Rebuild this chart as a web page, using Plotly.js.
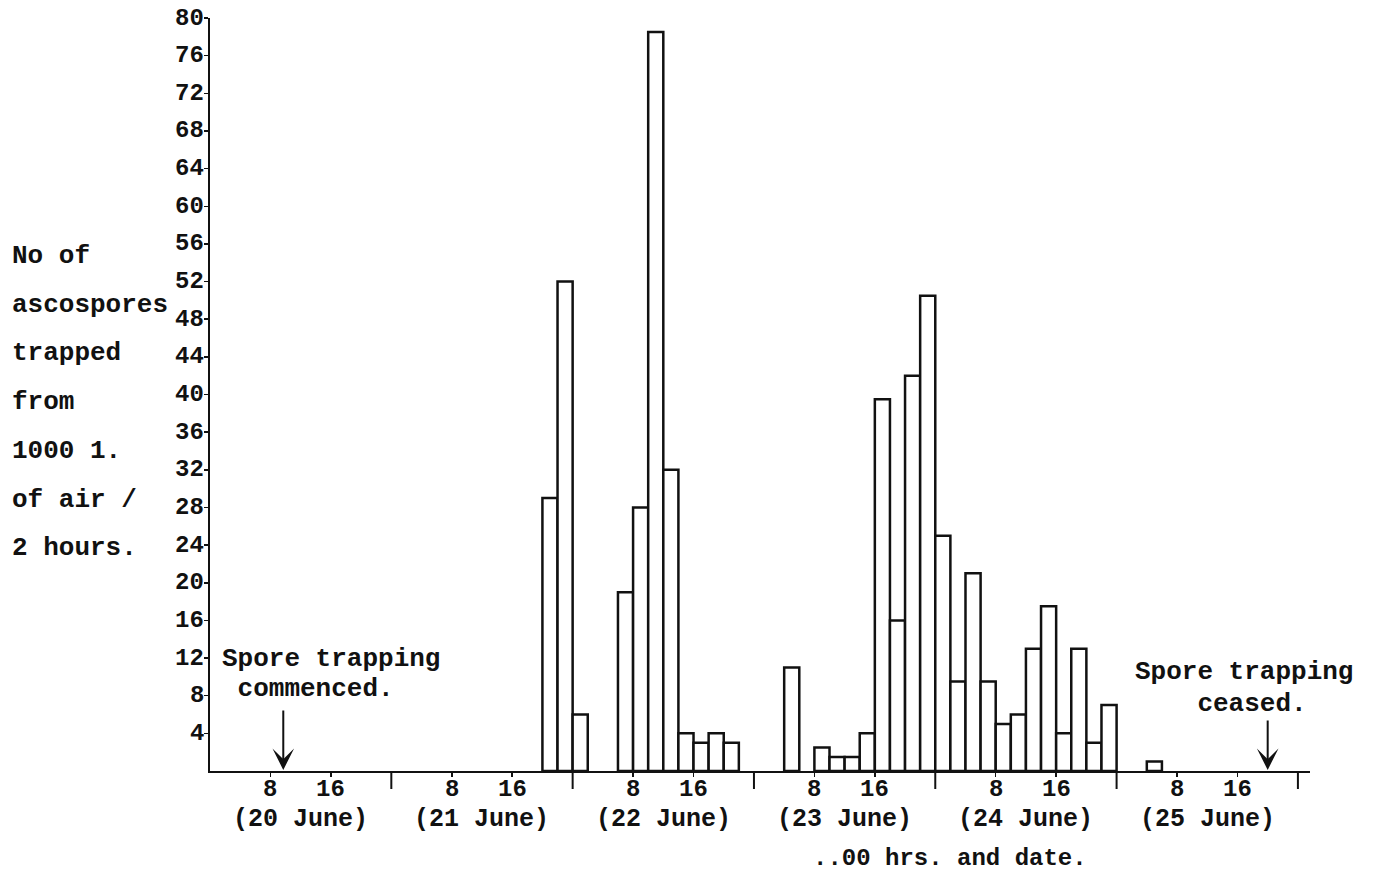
<!DOCTYPE html>
<html>
<head>
<meta charset="utf-8">
<script src="https://cdn.plot.ly/plotly-3.0.1.min.js"></script>
<style>
  html, body { margin: 0; padding: 0; background: #fff; }
  #chart { width: 1375px; height: 879px; }
</style>
</head>
<body>
<div id="chart"></div>
<script>
// Start hour of each 2-hour trapping period (hours after 00.00 hrs, 20 June)
const binStartHours = [44, 46, 48,
  54, 56, 58, 60, 62, 64, 66, 68,
  76,
  80, 82, 84, 86, 88, 90, 92, 94, 96, 98, 100, 102, 104, 106, 108, 110, 112, 114, 116, 118,
  124];
// Number of ascospores trapped from 1000 l. of air per 2 hours
const sporeCounts = [29, 52, 6,
  19, 28, 78.5, 32, 4, 3, 4, 3,
  11,
  2.5, 1.5, 1.5, 4, 39.5, 16, 42, 50.5, 25, 9.5, 21, 9.5, 5, 6, 13, 17.5, 4, 13, 3, 7,
  1];
const binHours = 2;

const dayLabels = ['(20 June)', '(21 June)', '(22 June)', '(23 June)', '(24 June)', '(25 June)'];
const hourTickLabels = ['8', '16'];
const hourTickOffsets = [8, 16];
const yTickValues = [4, 8, 12, 16, 20, 24, 28, 32, 36, 40, 44, 48, 52, 56, 60, 64, 68, 72, 76, 80];
const yTitleLines = ['No of', 'ascospores', 'trapped', 'from', '1000 1.', 'of air /', '2 hours.'];
const xTitle = '..00 hrs. and date.';
const startNote = ['Spore trapping', ' commenced.'];
const endNote = ['Spore trapping', '    ceased.'];
const startHour = 9.7;   // trapping commenced
const endHour = 140;     // trapping ceased

const FONT = 'Liberation Mono, DejaVu Sans Mono, monospace';
const INK = '#111';

const W = 1375, H = 879;
const M = { l: 210, r: 65, t: 18, b: 108 };
const plotH = H - M.t - M.b;
const plotW = W - M.l - M.r;

const xCenters = binStartHours.map(h => h + binHours / 2);

const tickVals = [], tickText = [], dayBounds = [];
dayLabels.forEach((d, i) => {
  hourTickOffsets.forEach((o, j) => { tickVals.push(i * 24 + o); tickText.push(hourTickLabels[j]); });
  dayBounds.push((i + 1) * 24);
});

const trace = {
  type: 'bar',
  x: xCenters,
  y: sporeCounts,
  width: binHours,
  marker: { color: '#fff', line: { color: INK, width: 2.5 } },
  hoverinfo: 'x+y'
};

const txt = (size) => ({ family: FONT, size: size, color: INK, weight: 'bold' });

const annotations = [];
// y-axis tick labels
yTickValues.forEach(v => {
  annotations.push({
    text: String(v), xref: 'paper', yref: 'y', x: 0, xshift: -4, y: v,
    xanchor: 'right', yanchor: 'middle', showarrow: false, font: txt(24)
  });
});
// x-axis hour labels
tickVals.forEach((v, i) => {
  annotations.push({
    text: tickText[i], xref: 'x', yref: 'paper', x: v, y: 0, yshift: -18,
    xanchor: 'center', yanchor: 'middle', showarrow: false, font: txt(24)
  });
});
// multi-line y title
yTitleLines.forEach((t, i) => {
  const yPix = 256 + i * 48.7;
  annotations.push({
    text: t, xref: 'paper', yref: 'paper', x: 0, xshift: -(M.l - 10),
    y: (H - M.b - yPix) / plotH,
    xanchor: 'left', yanchor: 'middle', showarrow: false,
    font: txt(26)
  });
});
// day labels
dayLabels.forEach((d, i) => {
  annotations.push({
    text: d, xref: 'x', yref: 'paper', x: i * 24 + 12, y: 0, yshift: -48,
    xanchor: 'center', yanchor: 'middle', showarrow: false,
    font: txt(25)
  });
});
annotations.push({
  text: xTitle, xref: 'paper', yref: 'paper', x: (950 - M.l) / plotW, y: 0, yshift: -87,
  xanchor: 'center', yanchor: 'middle', showarrow: false,
  font: txt(24)
});
// start note
[[startNote[0], 659], [startNote[1], 689]].forEach(([t, yp]) => {
  annotations.push({
    text: t, xref: 'paper', yref: 'y', x: 0, xshift: 10, y: 0, yshift: (H - M.b) - yp,
    xanchor: 'left', yanchor: 'middle', showarrow: false, font: txt(26)
  });
});
annotations.push({
  text: '', xref: 'x', yref: 'y', x: startHour, y: 0, ax: 0, ay: -62,
  showarrow: true, arrowhead: 3, arrowsize: 1.8, arrowwidth: 2, arrowcolor: INK, standoff: 1
});
// end note
[[endNote[0], 672], [endNote[1], 704]].forEach(([t, yp]) => {
  annotations.push({
    text: t, xref: 'paper', yref: 'y', x: 0, xshift: 1133 - M.l, y: 0, yshift: (H - M.b) - yp,
    xanchor: 'left', yanchor: 'middle', showarrow: false, font: txt(26)
  });
});
annotations.push({
  text: '', xref: 'x', yref: 'y', x: endHour, y: 0, ax: 0, ay: -52,
  showarrow: true, arrowhead: 3, arrowsize: 1.8, arrowwidth: 2, arrowcolor: INK, standoff: 1
});

// long ticks marking midnight between days
const shapes = dayBounds.map(b => ({
  type: 'line', xref: 'x', yref: 'paper', x0: b, x1: b, y0: 0, y1: -18 / plotH,
  line: { color: INK, width: 2 }
}));

const layout = {
  width: W, height: H,
  margin: { l: M.l, r: M.r, t: M.t, b: M.b, pad: 0 },
  paper_bgcolor: '#fff', plot_bgcolor: '#fff',
  showlegend: false,
  bargap: 0,
  font: { family: FONT, color: INK },
  xaxis: {
    range: [0, 145.6], fixedrange: true,
    showline: true, linecolor: INK, linewidth: 2.2,
    showgrid: false, zeroline: false,
    tickmode: 'array', tickvals: tickVals,
    ticks: 'outside', ticklen: 4, tickwidth: 1.5, tickcolor: INK,
    showticklabels: false
  },
  yaxis: {
    range: [0, 80], fixedrange: true,
    showline: true, linecolor: INK, linewidth: 2.2,
    showgrid: false, zeroline: false,
    tickmode: 'array', tickvals: yTickValues,
    ticks: 'outside', ticklen: 4, tickwidth: 1.5, tickcolor: INK,
    showticklabels: false
  },
  shapes: shapes,
  annotations: annotations
};

Plotly.newPlot('chart', [trace], layout, { staticPlot: true, displayModeBar: false });
</script>
</body>
</html>
